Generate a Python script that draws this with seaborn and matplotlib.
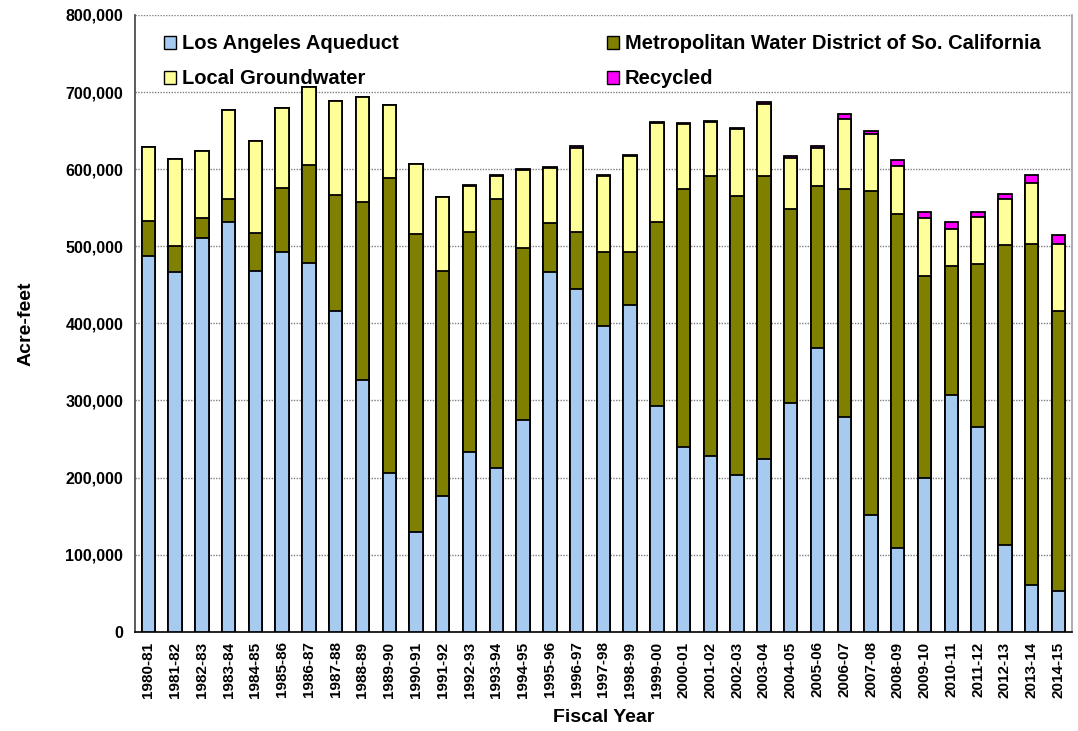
import numpy as np
import pandas as pd
import seaborn as sns
import matplotlib.pyplot as plt
from matplotlib.patches import Patch
from matplotlib.ticker import FuncFormatter, MultipleLocator

# fiscal years
years = ['1980-81', '1981-82', '1982-83', '1983-84', '1984-85', '1985-86', '1986-87',
         '1987-88', '1988-89', '1989-90', '1990-91', '1991-92', '1992-93', '1993-94',
         '1994-95', '1995-96', '1996-97', '1997-98', '1998-99', '1999-00', '2000-01',
         '2001-02', '2002-03', '2003-04', '2004-05', '2005-06', '2006-07', '2007-08',
         '2008-09', '2009-10', '2010-11', '2011-12', '2012-13', '2013-14', '2014-15']

# acre-feet by source
la_aqueduct = [488000, 466000, 511000, 531000, 468000, 492000, 478000, 416000, 327000,
               206000, 130000, 176000, 233000, 213000, 275000, 466000, 445000, 396000,
               424000, 293000, 239000, 228000, 203000, 224000, 297000, 368000, 278000,
               151000, 108000, 199000, 307000, 266000, 113000, 61000, 53000]
mwd = [45000, 34000, 26000, 30000, 49000, 83000, 128000, 151000, 230000, 382000, 386000,
       292000, 286000, 348000, 223000, 64000, 73000, 96000, 68000, 239000, 335000, 363000,
       362000, 367000, 251000, 210000, 296000, 421000, 434000, 262000, 167000, 211000,
       389000, 442000, 363000]
groundwater = [96000, 113000, 87000, 116000, 120000, 104000, 100000, 122000, 137000, 95000,
               91000, 96000, 59000, 30500, 101000, 71500, 110000, 98500, 125500, 127500,
               84500, 70500, 87500, 93000, 67000, 49500, 91000, 73000, 62000, 76000, 49000,
               60500, 59000, 79000, 87000]
recycled = [0, 0, 0, 0, 0, 0, 0, 0, 0, 0, 0, 0, 1500, 1500, 1500, 1500, 2000, 1500, 1500,
            1500, 1500, 1500, 1500, 2500, 1500, 2000, 6000, 5000, 8000, 8000, 9000, 7500,
            7000, 10000, 11000]

labels = ['Los Angeles Aqueduct', 'Metropolitan Water District of So. California',
          'Local Groundwater', 'Recycled']
colors = ['#A6CAF0', '#808000', '#FFFF99', '#FF00FF']

df = pd.DataFrame({'year': years, 'la': la_aqueduct, 'mwd': mwd,
                   'gw': groundwater, 'rec': recycled})
stack = df[['la', 'mwd', 'gw', 'rec']].cumsum(axis=1)
stack['year'] = df['year']

sns.set_style('white')
plt.rcParams['font.family'] = ['Liberation Sans', 'DejaVu Sans']
plt.rcParams['font.weight'] = 'bold'
for k in ['text.color', 'axes.labelcolor', 'xtick.labelcolor', 'ytick.labelcolor']:
    plt.rcParams[k] = 'black'

fig = plt.figure(figsize=(10.78, 7.31), dpi=100)
ax = fig.add_axes([0.1252, 0.1358, 0.8690, 0.8437])

# draw cumulative bars back to front so they look stacked
for col, c in zip(['rec', 'gw', 'mwd', 'la'], colors[::-1]):
    sns.barplot(data=stack, x='year', y=col, color=c, saturation=1, width=0.5,
                edgecolor='black', linewidth=1.3, errorbar=None, ax=ax, zorder=3)

ax.set_ylim(0, 800000)
ax.set_xlim(-0.5, len(years) - 0.5)
ax.yaxis.set_major_locator(MultipleLocator(100000))
ax.yaxis.set_major_formatter(FuncFormatter(lambda v, p: '{:,.0f}'.format(v)))
ax.yaxis.grid(True, color='#808080', linestyle=(0, (1, 1)), linewidth=1.0, zorder=0)
ax.set_axisbelow(True)

ax.set_xticks(range(len(years)))
ax.set_xticklabels(years, rotation=90, fontsize=11, fontweight='bold')
ax.set_xticks(np.arange(-0.5, len(years)), minor=True)
ax.tick_params(axis='x', which='major', length=0, pad=7)
ax.tick_params(axis='x', which='minor', length=5, width=1, direction='out', color='#404040')
ax.tick_params(axis='y', length=5, width=1, direction='out', labelsize=11.5, color='#404040')
for t in ax.get_yticklabels():
    t.set_fontweight('bold')

ax.set_xlabel('Fiscal Year', fontsize=14, fontweight='bold', labelpad=8)
ax.set_ylabel('Acre-feet', fontsize=14, fontweight='bold', labelpad=22)

ax.spines['top'].set_visible(False)
ax.spines['left'].set_color('#404040')
ax.spines['left'].set_linewidth(1.2)
ax.spines['bottom'].set_color('black')
ax.spines['bottom'].set_linewidth(1.2)
ax.spines['right'].set_color('#a0a0a0')
ax.spines['right'].set_linewidth(1.2)

handles = [Patch(facecolor=colors[i], edgecolor='black', linewidth=1.0, label=labels[i])
           for i in [0, 2, 1, 3]]
leg = ax.legend(handles=handles, ncol=2, loc='upper left', bbox_to_anchor=(0.012, 0.998),
                frameon=False, prop={'size': 14.5, 'weight': 'bold'}, handlelength=0.6,
                handleheight=0.6, handletextpad=0.3, labelspacing=0.8, columnspacing=10.3)

fig.savefig('out.png', dpi=100)
